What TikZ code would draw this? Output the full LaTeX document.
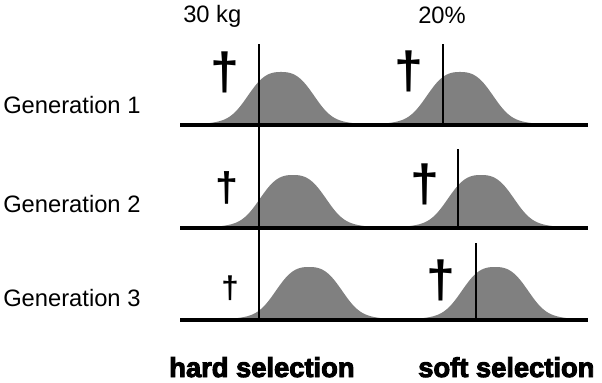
\documentclass[tikz,border=0pt]{standalone}
\usepackage{fontspec}
\setmainfont{Liberation Sans}
\newfontfamily\heavyfont[FakeBold=3.5]{Liberation Sans Bold}
\newfontfamily\daggerfont{Liberation Sans Bold}
\definecolor{cHump}{HTML}{808080}
\tikzset{
    axis/.style={line width=2.8pt, black},
    cut/.style={line width=1.5pt, black},
    hump/.style={fill=cHump, draw=none},
    genlbl/.style={anchor=base west, inner sep=0pt, font=\fontsize{17.8}{20}\selectfont},
    toplbl/.style={genlbl},
    sellbl/.style={anchor=base west, inner sep=0pt, font=\heavyfont\fontsize{20.5}{24}\selectfont},
    cross/.style={inner sep=0pt},
}

\begin{document}
\begin{tikzpicture}[x=0.75pt, y=-0.75pt]
\useasboundingbox (0,0) rectangle (602,382);

% trait distributions
\foreach \cx/\by in {281/125, 460/125, 293/228, 481/228, 309/320, 495/320}{%
    \fill[hump] plot[domain=-78:78, samples=90, smooth]
        ({\cx+\x},{\by-53*(0.72*exp(-((\x*\x)/1444)^1.5)+0.28*exp(-(\x*\x)/2500))}) -- cycle;}

% generation axes
\foreach \nm/\by in {1/125, 2/228, 3/320}{%
    \coordinate (ax\nm l) at (180,\by);
    \coordinate (ax\nm r) at (588,\by);
    \draw[axis] (ax\nm l) -- (ax\nm r);}

% thresholds
\coordinate (hardtop) at (259,44);
\coordinate (hardbot) at (259,320);
\draw[cut] (hardtop) -- (hardbot);
\foreach \nm/\xx/\ya/\yb in {1/443/44/125, 2/458/149/228, 3/476/243/320}{%
    \coordinate (soft\nm top) at (\xx,\ya);
    \coordinate (soft\nm bot) at (\xx,\yb);
    \draw[cut] (soft\nm top) -- (soft\nm bot);}

% deaths
\foreach \nm/\xx/\yy/\sz in {h1/225/72/39, s1/409/71.5/39, h2/227/188/31,
                            s2/425/184/39, h3/230/288.5/23.5, s3/441/280.5/39}{%
    \node[cross, font=\daggerfont\fontsize{\sz}{\sz}\selectfont] (dag\nm) at (\xx,\yy) {†};}

\node[genlbl] (gen1) at (3,113) {Generation 1};
\node[genlbl] (gen2) at (3,212) {Generation 2};
\node[genlbl] (gen3) at (3,306) {Generation 3};

\node[toplbl] (mass)  at (183,22) {30 kg};
\node[toplbl] (share) at (418,23) {20\%};

\node[sellbl] (hard) at (169,377) {hard selection};
\node[sellbl] (soft) at (418,377) {soft selection};

\end{tikzpicture}
\end{document}
